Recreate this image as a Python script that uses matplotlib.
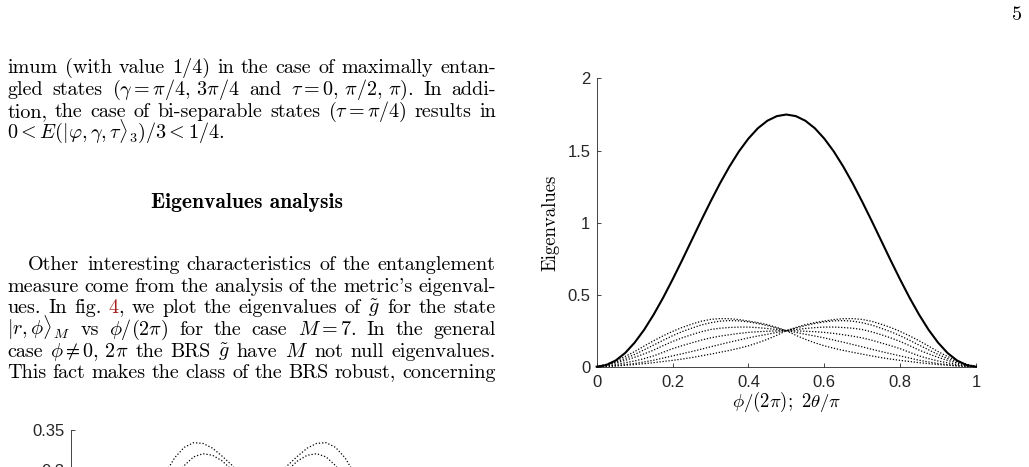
import matplotlib
matplotlib.use('Agg')
import matplotlib.pyplot as plt

plt.rcParams['mathtext.fontset'] = 'cm'
plt.rcParams['font.family'] = ['Liberation Sans', 'DejaVu Sans']
plt.rcParams['axes.unicode_minus'] = False

# ---------------- data ----------------
x_frac = [0.000, 0.025, 0.050, 0.075, 0.100, 0.125, 0.150, 0.175, 0.200, 0.225,
          0.250, 0.275, 0.300, 0.325, 0.350, 0.375, 0.400, 0.425, 0.450, 0.475,
          0.500, 0.525, 0.550, 0.575, 0.600, 0.625, 0.650, 0.675, 0.700, 0.725,
          0.750, 0.775, 0.800, 0.825, 0.850, 0.875, 0.900, 0.925, 0.950, 0.975, 1.000]

largest_eig = [0.000, 0.011, 0.043, 0.095, 0.167, 0.256, 0.361, 0.478, 0.605, 0.738,
               0.875, 1.012, 1.145, 1.272, 1.389, 1.494, 1.583, 1.655, 1.707, 1.739,
               1.750, 1.739, 1.707, 1.655, 1.583, 1.494, 1.389, 1.272, 1.145, 1.012,
               0.875, 0.738, 0.605, 0.478, 0.361, 0.256, 0.167, 0.095, 0.043, 0.011, 0.000]

eig_a = [0, .017, .040, .071, .105, .143, .180, .214, .245, .272, .295, .315, .328,
         .334, .333, .327, .317, .306, .292, .272, .25,
         .218, .190, .166, .145, .128, .113, .100, .087, .075, .063, .053, .044, .036,
         .028, .021, .015, .010, .005, .002, 0]
eig_b = [0, .013, .032, .057, .085, .117, .150, .183, .215, .243, .267, .289, .305,
         .316, .320, .318, .311, .300, .285, .268, .25,
         .238, .225, .213, .200, .185, .170, .154, .138, .121, .105, .090, .075, .060,
         .045, .033, .022, .014, .008, .003, 0]
eig_c = [0, .011, .025, .044, .065, .089, .115, .146, .175, .200, .222, .242, .258,
         .267, .272, .275, .275, .271, .265, .258, .25,
         .249, .246, .243, .238, .231, .222, .212, .200, .184, .165, .146, .125, .100,
         .075, .056, .040, .027, .015, .006, 0]
eig_d = [0, .006, .015, .027, .040, .056, .075, .100, .125, .146, .165, .184, .200,
         .212, .222, .231, .238, .243, .246, .249, .25,
         .258, .265, .271, .275, .275, .272, .267, .258, .242, .222, .200, .175, .146,
         .115, .089, .065, .044, .025, .011, 0]
eig_e = [0, .003, .008, .014, .022, .033, .045, .060, .075, .090, .105, .121, .138,
         .154, .170, .185, .200, .213, .225, .238, .25,
         .268, .285, .300, .311, .318, .320, .316, .305, .289, .267, .243, .215, .183,
         .150, .117, .085, .057, .032, .013, 0]
eig_f = [0, .002, .005, .010, .015, .021, .028, .036, .044, .053, .063, .075, .087,
         .100, .113, .128, .145, .166, .190, .218, .25,
         .272, .292, .306, .317, .327, .333, .334, .328, .315, .295, .272, .245, .214,
         .180, .143, .105, .071, .040, .017, 0]
small_eigs = [eig_a, eig_b, eig_c, eig_d, eig_e, eig_f]

main_xticks = [0, 0.2, 0.4, 0.6, 0.8, 1]
main_yticks = [0, 0.5, 1, 1.5, 2]
frag_yticks = [0.3, 0.35]

# ---------------- figure ----------------
W, H = 1029, 467
fig = plt.figure(figsize=(W / 100, H / 100), dpi=100)
fig.patch.set_facecolor('white')
renderer = fig.canvas.get_renderer()

AXC = '#262626'


def add_ax(l, t, r, b):
    return fig.add_axes([l / W, 1 - b / H, (r - l) / W, (b - t) / H])


def style(ax, xpad=6, ypad=4.5):
    for s in ['top', 'right']:
        ax.spines[s].set_visible(False)
    for s in ['left', 'bottom']:
        ax.spines[s].set_color(AXC)
        ax.spines[s].set_linewidth(0.6)
    ax.tick_params(direction='in', length=3, width=0.6, color=AXC,
                   labelsize=12, labelcolor=AXC)
    ax.tick_params(axis='x', pad=xpad)
    ax.tick_params(axis='y', pad=ypad)
    ax.set_facecolor('none')


# main chart
ax = add_ax(596.7, 78.5, 976, 366.7)
style(ax)
ax.plot(x_frac, largest_eig, color='black', lw=1.5, clip_on=False, zorder=3)
for ys in small_eigs:
    ax.plot(x_frac, ys, color='black', lw=0.9, linestyle=(0, (1, 1.4)),
            clip_on=False, zorder=2)
ax.set_xlim(0, 1)
ax.set_ylim(0, 2)
ax.set_xticks(main_xticks)
ax.set_xticklabels(['%g' % v for v in main_xticks])
ax.set_yticks(main_yticks)
ax.set_yticklabels(['%g' % v for v in main_yticks])
ax.text(-0.123, 0.5, 'Eigenvalues', rotation=90, ha='center', va='center',
        family='cmr10', size=13.5, color='black', transform=ax.transAxes)
ax.text(0.5, -0.1225, r'$\phi/(2\pi);\ 2\theta/\pi$', ha='center', va='center',
        size=13.5, color='black', transform=ax.transAxes)

# partially visible chart at bottom-left
ax2 = add_ax(70.7, 430, 449, 430 + 0.35 * 790)
style(ax2)
for ys in small_eigs:
    ax2.plot(x_frac, ys, color='black', lw=0.9, linestyle=(0, (1, 1.6)), zorder=2)
ax2.set_xlim(0, 1)
ax2.set_ylim(0, 0.35)
ax2.set_xticks([])
ax2.set_yticks(frag_yticks)
ax2.set_yticklabels(['%g' % v for v in frag_yticks])

# ---------------- page text ----------------
TXT = dict(family='cmr10', size=14.5)
RED = '#a51d1d'


def tw(s, **kw):
    t = fig.text(0, 0, s, **kw)
    w = t.get_window_extent(renderer=renderer).width
    t.remove()
    return w


def put(s, x, y, color='black', **kw):
    fig.text(x / W, 1 - y / H, s, ha='left', va='baseline', color=color, **kw)


def layout_line(x0, x1, y, tokens, justify=True):
    toks = []
    for tk in tokens:
        if isinstance(tk, str):
            tk = [(tk, 'black')]
        pieces = [(s, c, tw(s, **TXT)) for s, c in tk]
        toks.append(pieces)
    widths = [sum(p[2] for p in t) for t in toks]
    if justify and len(toks) > 1:
        gap = (x1 - x0 - sum(widths)) / (len(toks) - 1)
    else:
        gap = 6.5
    x = x0
    for pieces, w in zip(toks, widths):
        xx = x
        for s, c, pw in pieces:
            put(s, xx, y, color=c, **TXT)
            xx += pw
        x += w + gap


L0, R0 = 7.3, 495.7
lines = [
    (L0, 73.3, True, ["imum", "(with", "value", "1/4)", "in", "the", "case", "of",
                      "maximally", "entan-"]),
    (L0, 95.0, True, ["gled", "states", r"($\gamma = \pi/4,\,3\pi/4$", "and",
                      r"$\tau = 0,\,\pi/2,\,\pi$).", "In", "addi-"]),
    (L0, 116.7, True, ["tion,", "the", "case", "of", "bi-separable", "states",
                       r"($\tau = \pi/4$)", "results", "in"]),
    (L0, 138.3, False, [r"$0 < E(|\varphi,\gamma,\tau\rangle_3)/3 < 1/4$."]),
    (28.3, 270.0, True, ["Other", "interesting", "characteristics", "of", "the",
                         "entanglement"]),
    (L0, 291.7, True, ["measure", "come", "from", "the", "analysis", "of", "the",
                       "metric's", "eigenval-"]),
    (L0, 313.3, True, ["ues.", "In", "fig.", [("4", RED), (",", 'black')], "we", "plot",
                       "the", "eigenvalues", "of", r"$\tilde{g}$", "for", "the", "state"]),
    (L0, 335.0, True, [r"$|r,\phi\rangle_M$", "vs", r"$\phi/(2\pi)$", "for", "the",
                       "case", r"$M = 7$.", "In", "the", "general"]),
    (L0, 356.7, True, ["case", r"$\phi \neq 0,\,2\pi$", "the", "BRS", r"$\tilde{g}$",
                       "have", r"$M$", "not", "null", "eigenvalues."]),
    (L0, 378.0, True, ["This", "fact", "makes", "the", "class", "of", "the", "BRS",
                       "robust,", "concerning"]),
]
for x0, y, just, toks in lines:
    layout_line(x0, R0, y, toks, justify=just)

fig.text(247 / W, 1 - 208.3 / H, 'Eigenvalues analysis', ha='center', va='baseline',
         family='cmb10', size=15.5, color='black')
fig.text(1022 / W, 1 - 19.5 / H, '5', ha='right', va='baseline', family='cmr10',
         size=14.5, color='black')

fig.savefig('out.png', dpi=100, facecolor='white')
